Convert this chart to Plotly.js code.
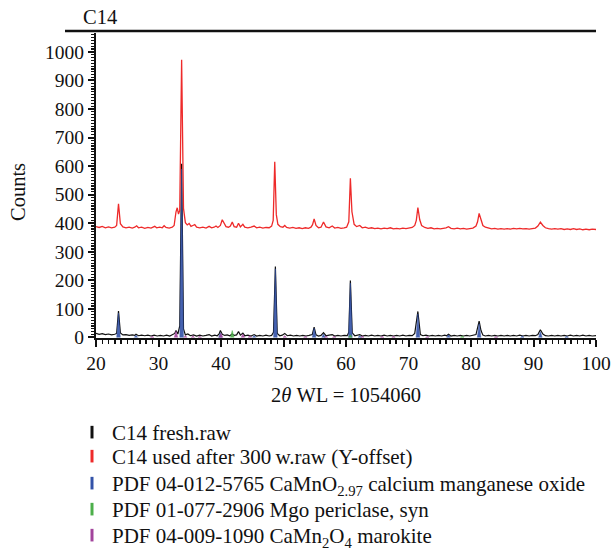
<!DOCTYPE html>
<html><head><meta charset="utf-8">
<script src="https://cdn.plot.ly/plotly-3.0.1.min.js"></script>
<style>html,body{margin:0;padding:0;background:#fff}</style>
</head><body><div id="chart" style="width:611px;height:554px"></div>
<script>
// ---- data (2θ in degrees, intensity in counts) ----
const freshX = [20.0,20.5,21.0,21.5,22.0,22.5,23.0,23.3,23.6,23.9,
24.3,24.8,25.3,25.8,26.2,26.4,26.8,27.3,27.8,28.3,
28.8,29.3,29.8,30.3,30.8,31.3,31.8,32.3,32.6,32.8,
33.1,33.4,33.7,34.0,34.3,34.7,35.1,35.6,36.1,36.6,
37.1,37.6,38.1,38.5,39.0,39.4,39.7,39.9,40.2,40.6,
41.0,41.4,41.8,42.1,42.5,42.8,43.1,43.5,43.8,44.3,
44.8,45.3,45.7,46.2,46.7,47.2,47.7,48.1,48.4,48.7,
49.0,49.4,49.8,50.2,50.6,51.1,51.6,52.1,52.6,53.1,
53.6,54.1,54.6,54.9,55.2,55.6,56.0,56.4,56.8,57.3,
57.8,58.2,58.7,59.2,59.7,60.2,60.45,60.7,61.0,61.4,
61.8,62.2,62.6,63.1,63.6,64.1,64.6,65.1,65.6,66.1,
66.6,67.1,67.6,68.1,68.6,69.1,69.6,70.1,70.6,71.0,
71.5,71.9,72.3,72.8,73.3,73.8,74.3,74.8,75.3,75.8,
76.1,76.4,76.8,77.3,77.8,78.3,78.8,79.3,79.8,80.3,
80.8,81.3,81.6,81.9,82.3,82.8,83.3,83.8,84.3,84.8,
85.3,85.8,86.3,86.8,87.3,87.8,88.3,88.8,89.3,89.8,
90.3,90.7,91.1,91.5,91.9,92.4,92.9,93.4,93.9,94.4,
94.9,95.4,95.9,96.4,96.9,97.4,97.9,98.4,98.9,99.4,
100.0];
const freshY = [14,11,13,10,12,9,11,14,92,16,
9,10,7,9,7,11,6,8,6,8,
5,8,5,7,5,8,5,9,14,24,
12,40,608,30,9,12,6,9,5,8,
5,7,10,5,8,6,12,24,11,7,
9,6,12,7,9,21,8,15,6,8,
5,10,5,7,5,8,5,7,18,248,
14,6,8,14,6,8,5,7,5,7,
5,7,10,36,9,5,7,17,6,8,
10,5,7,5,7,6,18,199,16,6,
8,10,5,7,5,8,5,7,5,8,
5,7,5,7,5,8,5,7,6,14,
91,10,6,8,5,7,5,7,5,8,
6,11,5,7,5,7,5,7,5,7,
10,57,24,8,5,7,5,7,5,7,
5,7,5,7,5,8,5,7,5,7,
6,10,27,12,6,5,7,5,7,5,
7,5,8,5,7,5,8,5,7,5,
6];

const usedX = [20.0,20.5,21.0,21.5,22.0,22.5,23.0,23.3,23.6,23.9,
24.3,24.8,25.3,25.8,26.2,26.5,26.8,27.3,27.8,28.3,
28.8,29.2,29.4,29.7,30.2,30.6,30.9,31.2,31.7,32.2,
32.5,32.8,33.0,33.2,33.4,33.7,34.0,34.3,34.6,34.9,
35.2,35.5,35.8,36.1,36.6,37.1,37.6,38.1,38.5,38.9,
39.2,39.5,39.9,40.2,40.5,40.8,41.2,41.5,41.8,42.1,
42.5,42.8,43.1,43.5,43.8,44.3,44.8,45.3,45.7,46.2,
46.7,47.2,47.7,48.1,48.35,48.6,48.85,49.1,49.5,49.9,
50.2,50.5,51.0,51.5,52.0,52.5,53.0,53.5,54.0,54.4,
54.65,54.9,55.2,55.6,56.0,56.4,56.8,57.3,57.8,58.2,
58.7,59.2,59.7,60.1,60.45,60.7,60.95,61.3,61.7,62.2,
62.6,63.1,63.6,64.1,64.6,65.1,65.6,66.1,66.6,67.1,
67.6,68.1,68.6,69.1,69.6,70.1,70.6,71.0,71.25,71.5,
71.8,72.1,72.6,73.1,73.6,74.1,74.6,75.1,75.6,76.0,
76.4,76.8,77.3,77.8,78.3,78.8,79.3,79.8,80.3,80.8,
81.05,81.3,81.6,81.9,82.3,82.8,83.3,83.8,84.3,84.8,
85.3,85.8,86.3,86.8,87.3,87.8,88.3,88.8,89.3,89.8,
90.3,90.7,91.1,91.5,91.9,92.4,92.9,93.4,93.9,94.4,
94.9,95.4,95.9,96.4,96.9,97.4,97.9,98.4,98.9,99.4,
100.0];
const usedY = [388,385,389,384,387,384,386,392,468,398,
387,384,386,383,386,391,384,386,382,385,
383,386,389,384,386,384,391,385,383,386,
392,440,454,432,445,972,452,402,394,399,
389,392,395,386,384,386,383,389,384,386,
390,385,392,412,400,388,386,390,404,388,
386,400,387,396,386,384,386,390,384,386,
383,385,384,390,410,615,430,396,388,386,
392,385,383,385,382,384,381,384,382,386,
395,415,392,384,386,404,387,384,390,383,
385,382,384,386,405,557,440,396,388,392,
384,386,382,384,381,383,380,383,381,384,
380,382,380,383,381,383,385,392,410,455,
412,392,385,382,384,380,382,380,382,384,
388,382,380,383,380,382,379,381,383,390,
405,434,408,392,386,382,380,382,379,381,
379,381,379,382,380,382,380,381,379,381,
383,390,404,392,384,381,379,381,379,381,
378,380,378,381,378,380,377,379,377,379,
378];

// reference patterns (peak position, relative height in counts)
const camnoPos = [23.6,26.4,33.7,39.9,45.3,48.7,54.9,56.4,60.7,62.2,71.5,76.4,81.3,88.2,91.1,95.3];
const camnoInt = [85,8,590,16,7,240,32,12,190,6,82,9,48,5,20,4];
const mgoPos = [41.8,60.7,78.6];
const mgoInt = [24,9,5];
const marokitePos = [29.0,32.8,34.3,35.5,36.6,40.0,43.5,44.6,50.2,53.5,56.8,58.1,62.6,65.8,67.6,73.0,84.0];
const marokiteInt = [4,22,6,6,4,14,12,6,6,4,5,4,5,4,4,3,3];

const seriesNames = [
  'C14 fresh.raw',
  'C14 used after 300\u2009w.raw (Y-offset)',
  'PDF 04-012-5765 CaMnO<sub>2.97</sub> calcium manganese oxide',
  'PDF 01-077-2906 Mgo periclase, syn',
  'PDF 04-009-1090 CaMn<sub>2</sub>O<sub>4</sub> marokite'
];
const seriesColors = ['#111111','#ee2a2a','#3352a8','#4caf4a','#a2449c'];
const xTickVals = [20,30,40,50,60,70,80,90,100];

// ---- build traces ----
function sticks(pos, inten, hw) {
  const x = [], y = [];
  pos.forEach((p, i) => { x.push(p - hw, p, p + hw, null); y.push(0, inten[i], 0, null); });
  return {x, y};
}
const FONT = 'Liberation Serif, Times New Roman, serif';
const PLOT_TOP = 33, PLOT_BOTTOM = 338, PLOT_LEFT = 96, PLOT_W = 500;
const PLOT_H = PLOT_BOTTOM - PLOT_TOP;
const traces = [];
traces.push({x: freshX, y: freshY, type: 'scatter', mode: 'lines', line: {color: seriesColors[0], width: 1.2}, showlegend: false, hoverinfo: 'skip'});
traces.push({x: usedX, y: usedY, type: 'scatter', mode: 'lines', line: {color: seriesColors[1], width: 1.3}, showlegend: false, hoverinfo: 'skip'});
[[camnoPos, camnoInt, 2], [mgoPos, mgoInt, 3], [marokitePos, marokiteInt, 4]].forEach(([p, h, c]) => {
  const s = sticks(p, h, 0.28);
  traces.push({x: s.x, y: s.y, type: 'scatter', mode: 'lines', fill: 'toself', fillcolor: seriesColors[c],
    line: {color: seriesColors[c], width: 0.6}, opacity: 0.9, showlegend: false, hoverinfo: 'skip'});
});
// legend entries (vertical bar symbols), one legend box per row
const legendTops = [412, 436, 463, 489, 515];
const legends = {};
seriesNames.forEach((n, i) => {
  const key = i === 0 ? 'legend' : 'legend' + (i + 1);
  traces.push({x: [null], y: [null], type: 'scatter', mode: 'markers', name: n, legend: key,
    marker: {symbol: 'line-ns-open', size: 9, color: seriesColors[i], line: {color: seriesColors[i], width: 3}}});
  legends[key] = {x: (72 - PLOT_LEFT) / PLOT_W, xanchor: 'left',
    y: (PLOT_BOTTOM - legendTops[i]) / PLOT_H, yanchor: 'top',
    font: {family: FONT, size: 21, color: '#111'},
    itemwidth: 30, bgcolor: 'rgba(0,0,0,0)', borderwidth: 0};
});

const layout = Object.assign({
  width: 611, height: 554,
  margin: {l: 96, r: 15, t: 33, b: 216, autoexpand: false},
  paper_bgcolor: '#fff', plot_bgcolor: '#fff',
  font: {family: FONT, color: '#111', size: 19},
  title: {text: 'C14', font: {family: FONT, size: 20.5, color: '#111'}, xref: 'container', x: 83/611, xanchor: 'left', yref: 'container', y: 1 - 17/554, yanchor: 'middle'},
  xaxis: {
    range: [20, 100], tickvals: xTickVals, ticks: 'outside', ticklen: 7, tickwidth: 2, tickcolor: '#111',
    showline: true, linewidth: 2, linecolor: '#111', showgrid: false, zeroline: false,
    minor: {dtick: 1, ticks: 'outside', ticklen: 4, tickwidth: 1.5, tickcolor: '#111', showgrid: false},
    tickfont: {family: FONT, size: 19.5, color: '#111'},
    title: {text: '2<i>θ</i> WL = 1054060', font: {family: FONT, size: 20.5, color: '#111'}, standoff: 14}
  },
  yaxis: {
    range: [-2, 1066], dtick: 100, tick0: 0, ticks: 'outside', ticklen: 6, tickwidth: 2, tickcolor: '#111',
    showline: true, linewidth: 2, linecolor: '#111', showgrid: false, zeroline: false,
    minor: {dtick: 10, ticks: 'outside', ticklen: 3, tickwidth: 1.2, tickcolor: '#111', showgrid: false},
    tickfont: {family: FONT, size: 19.5, color: '#111'}
  },
  annotations: [{text: 'Counts', textangle: -90, showarrow: false, xref: 'paper', yref: 'paper',
    x: (18 - PLOT_LEFT) / PLOT_W, y: (PLOT_BOTTOM - 192) / PLOT_H, xanchor: 'center', yanchor: 'middle',
    font: {family: FONT, size: 20.5, color: '#111'}}],
  shapes: [{type: 'line', xref: 'paper', yref: 'paper', x0: -0.062, x1: 1.0, y0: 1.0066, y1: 1.0066,
    line: {color: '#111', width: 2.5}}],
  showlegend: true
}, legends);
Plotly.newPlot('chart', traces, layout, {displayModeBar: false, staticPlot: true});
</script></body></html>
